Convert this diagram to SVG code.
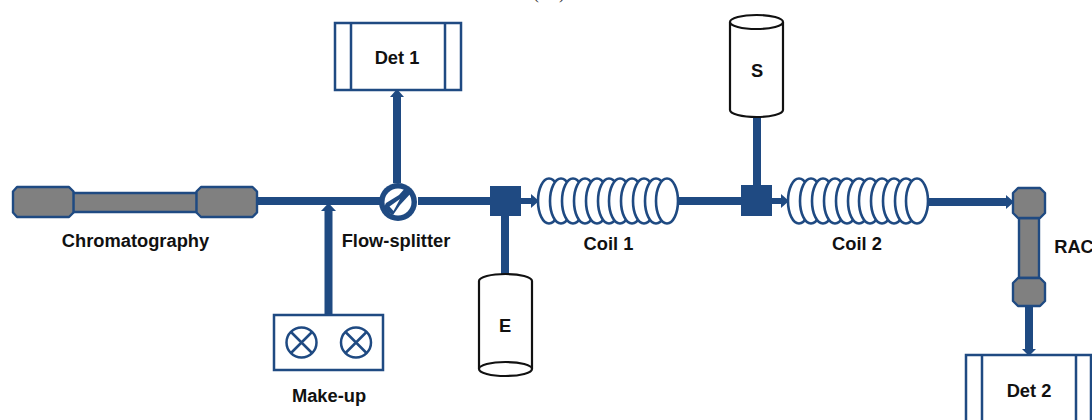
<svg xmlns="http://www.w3.org/2000/svg" width="1092" height="420" viewBox="0 0 1092 420">
<style>
text{font-family:"Liberation Sans",Arial,sans-serif;font-weight:700;font-size:18.300px;fill:#111;text-anchor:middle}
.p{fill:none;stroke:#1f4a82;stroke-width:8}
.a{fill:#1f4a82;stroke:none}
.c{fill:#808080;stroke:#1f4a82;stroke-width:2.400;stroke-linejoin:round}
.b{fill:#fff;stroke:#1f4a82;stroke-width:2.500}
.k{fill:#fff;stroke:#1f4a82;stroke-width:2.600}
.y{fill:#fff;stroke:#111;stroke-width:2.200}
.s{fill:#1f4a82}
</style>
<text x="549" y="-1" style="font-family:'Liberation Serif',serif;font-weight:400;font-size:17px;word-spacing:16px;fill:#333">( )</text>
<g id="connectors">
<path class="p" d="M257 201H380M418 201H490"/>
<path class="p" d="M397 183V95"/><path class="a" d="M397 89L404 97H390Z"/>
<path class="p" d="M328.500 315V210"/><path class="a" d="M328.500 203L336 211H321Z"/>
<path class="p" d="M505 216V275"/>
<path class="p" style="stroke-width:6" d="M521 201H532"/><path class="a" d="M539 201L531 194V208Z"/>
<path class="p" d="M678 201H741"/>
<path class="p" d="M757 118V185"/>
<path class="p" style="stroke-width:6" d="M772 201H782"/><path class="a" d="M789 201L781 194V208Z"/>
<path class="p" d="M928 202H1008"/><path class="a" d="M1014 202L1006 195V209Z"/>
<path class="p" d="M1029 306V350"/><path class="a" d="M1029 356L1022 349H1036Z"/>
</g>
<g id="chromatography">
<rect class="c" x="73" y="193" width="124" height="19"/>
<path class="c" d="M17 187H69L73.500 191.500V212.500L69 217H17L13 212.500V191.500Z"/>
<path class="c" d="M201 187H252.500L257 191.500V212.500L252.500 217H201L196.500 212.500V191.500Z"/>
<text x="135.500" y="247">Chromatography</text>
</g>
<g id="det1">
<rect class="b" x="335" y="23" width="126" height="67"/>
<path class="b" d="M351 23V90M445 23V90"/>
<text x="397" y="64">Det 1</text>
</g>
<g id="make-up">
<rect class="b" x="274" y="315" width="109" height="55"/>
<g class="b" style="fill:none">
<circle cx="301.500" cy="342.500" r="15"/><path d="M291 332L312 353M312 332L291 353"/>
<circle cx="356" cy="342.500" r="15"/><path d="M345.500 332L366.500 353M366.500 332L345.500 353"/>
</g>
<text x="329" y="402">Make-up</text>
</g>
<g id="flow-splitter">
<circle class="s" cx="398" cy="202" r="19"/>
<circle cx="398" cy="202" r="13.500" fill="#fff"/>
<path class="s" d="M407 186L412 192L400 205L393 215L388 212L384 207L386 203L399 195Z"/>
<path fill="#fff" d="M389.500 206.500L393.500 211L400 199Z"/>
<text x="396" y="247">Flow-splitter</text>
</g>
<g id="tee1"><rect class="s" x="490" y="186" width="31" height="30"/></g>
<g id="e">
<path class="y" d="M479 369V281C479 277 491 274 505.500 274C520 274 532 277 532 281V369"/>
<ellipse class="y" cx="505.500" cy="369" rx="26.500" ry="7"/>
<text x="505" y="332">E</text>
</g>
<g id="coil1">
<ellipse class="k" cx="549" cy="201" rx="11" ry="22.500"/>
<ellipse class="k" cx="561" cy="201" rx="11" ry="22.500"/>
<ellipse class="k" cx="573" cy="201" rx="11" ry="22.500"/>
<ellipse class="k" cx="585" cy="201" rx="11" ry="22.500"/>
<ellipse class="k" cx="597" cy="201" rx="11" ry="22.500"/>
<ellipse class="k" cx="609" cy="201" rx="11" ry="22.500"/>
<ellipse class="k" cx="620" cy="201" rx="11" ry="22.500"/>
<ellipse class="k" cx="632" cy="201" rx="11" ry="22.500"/>
<ellipse class="k" cx="644" cy="201" rx="11" ry="22.500"/>
<ellipse class="k" cx="656" cy="201" rx="11" ry="22.500"/>
<ellipse class="k" cx="667" cy="201" rx="11" ry="22.500"/>
<text x="608.500" y="250">Coil 1</text>
</g>
<g id="tee2"><rect class="s" x="741" y="185" width="31" height="31"/></g>
<g id="s">
<path class="y" d="M730 22V110C730 114 742 117 756.500 117C771 117 783 114 783 110V22"/>
<ellipse class="y" cx="756.500" cy="22" rx="26.500" ry="7"/>
<text x="757" y="77">S</text>
</g>
<g id="coil2">
<ellipse class="k" cx="799" cy="201" rx="11" ry="22.500"/>
<ellipse class="k" cx="811" cy="201" rx="11" ry="22.500"/>
<ellipse class="k" cx="823" cy="201" rx="11" ry="22.500"/>
<ellipse class="k" cx="835" cy="201" rx="11" ry="22.500"/>
<ellipse class="k" cx="847" cy="201" rx="11" ry="22.500"/>
<ellipse class="k" cx="859" cy="201" rx="11" ry="22.500"/>
<ellipse class="k" cx="870" cy="201" rx="11" ry="22.500"/>
<ellipse class="k" cx="882" cy="201" rx="11" ry="22.500"/>
<ellipse class="k" cx="894" cy="201" rx="11" ry="22.500"/>
<ellipse class="k" cx="906" cy="201" rx="11" ry="22.500"/>
<ellipse class="k" cx="917" cy="201" rx="11" ry="22.500"/>
<text x="857" y="250">Coil 2</text>
</g>
<g id="rac">
<rect class="c" x="1019" y="218" width="20" height="60"/>
<path class="c" d="M1018 188H1040L1045 193V213L1040 218H1018L1013 213V193Z"/>
<path class="c" d="M1018 278H1040L1045 283V301L1040 306H1018L1013 301V283Z"/>
<text x="1074" y="253">RAC</text>
</g>
<g id="det2">
<rect class="b" x="966" y="355" width="125" height="70"/>
<path class="b" d="M982 355V425M1076 355V425"/>
<text x="1029" y="397">Det 2</text>
</g>
</svg>
